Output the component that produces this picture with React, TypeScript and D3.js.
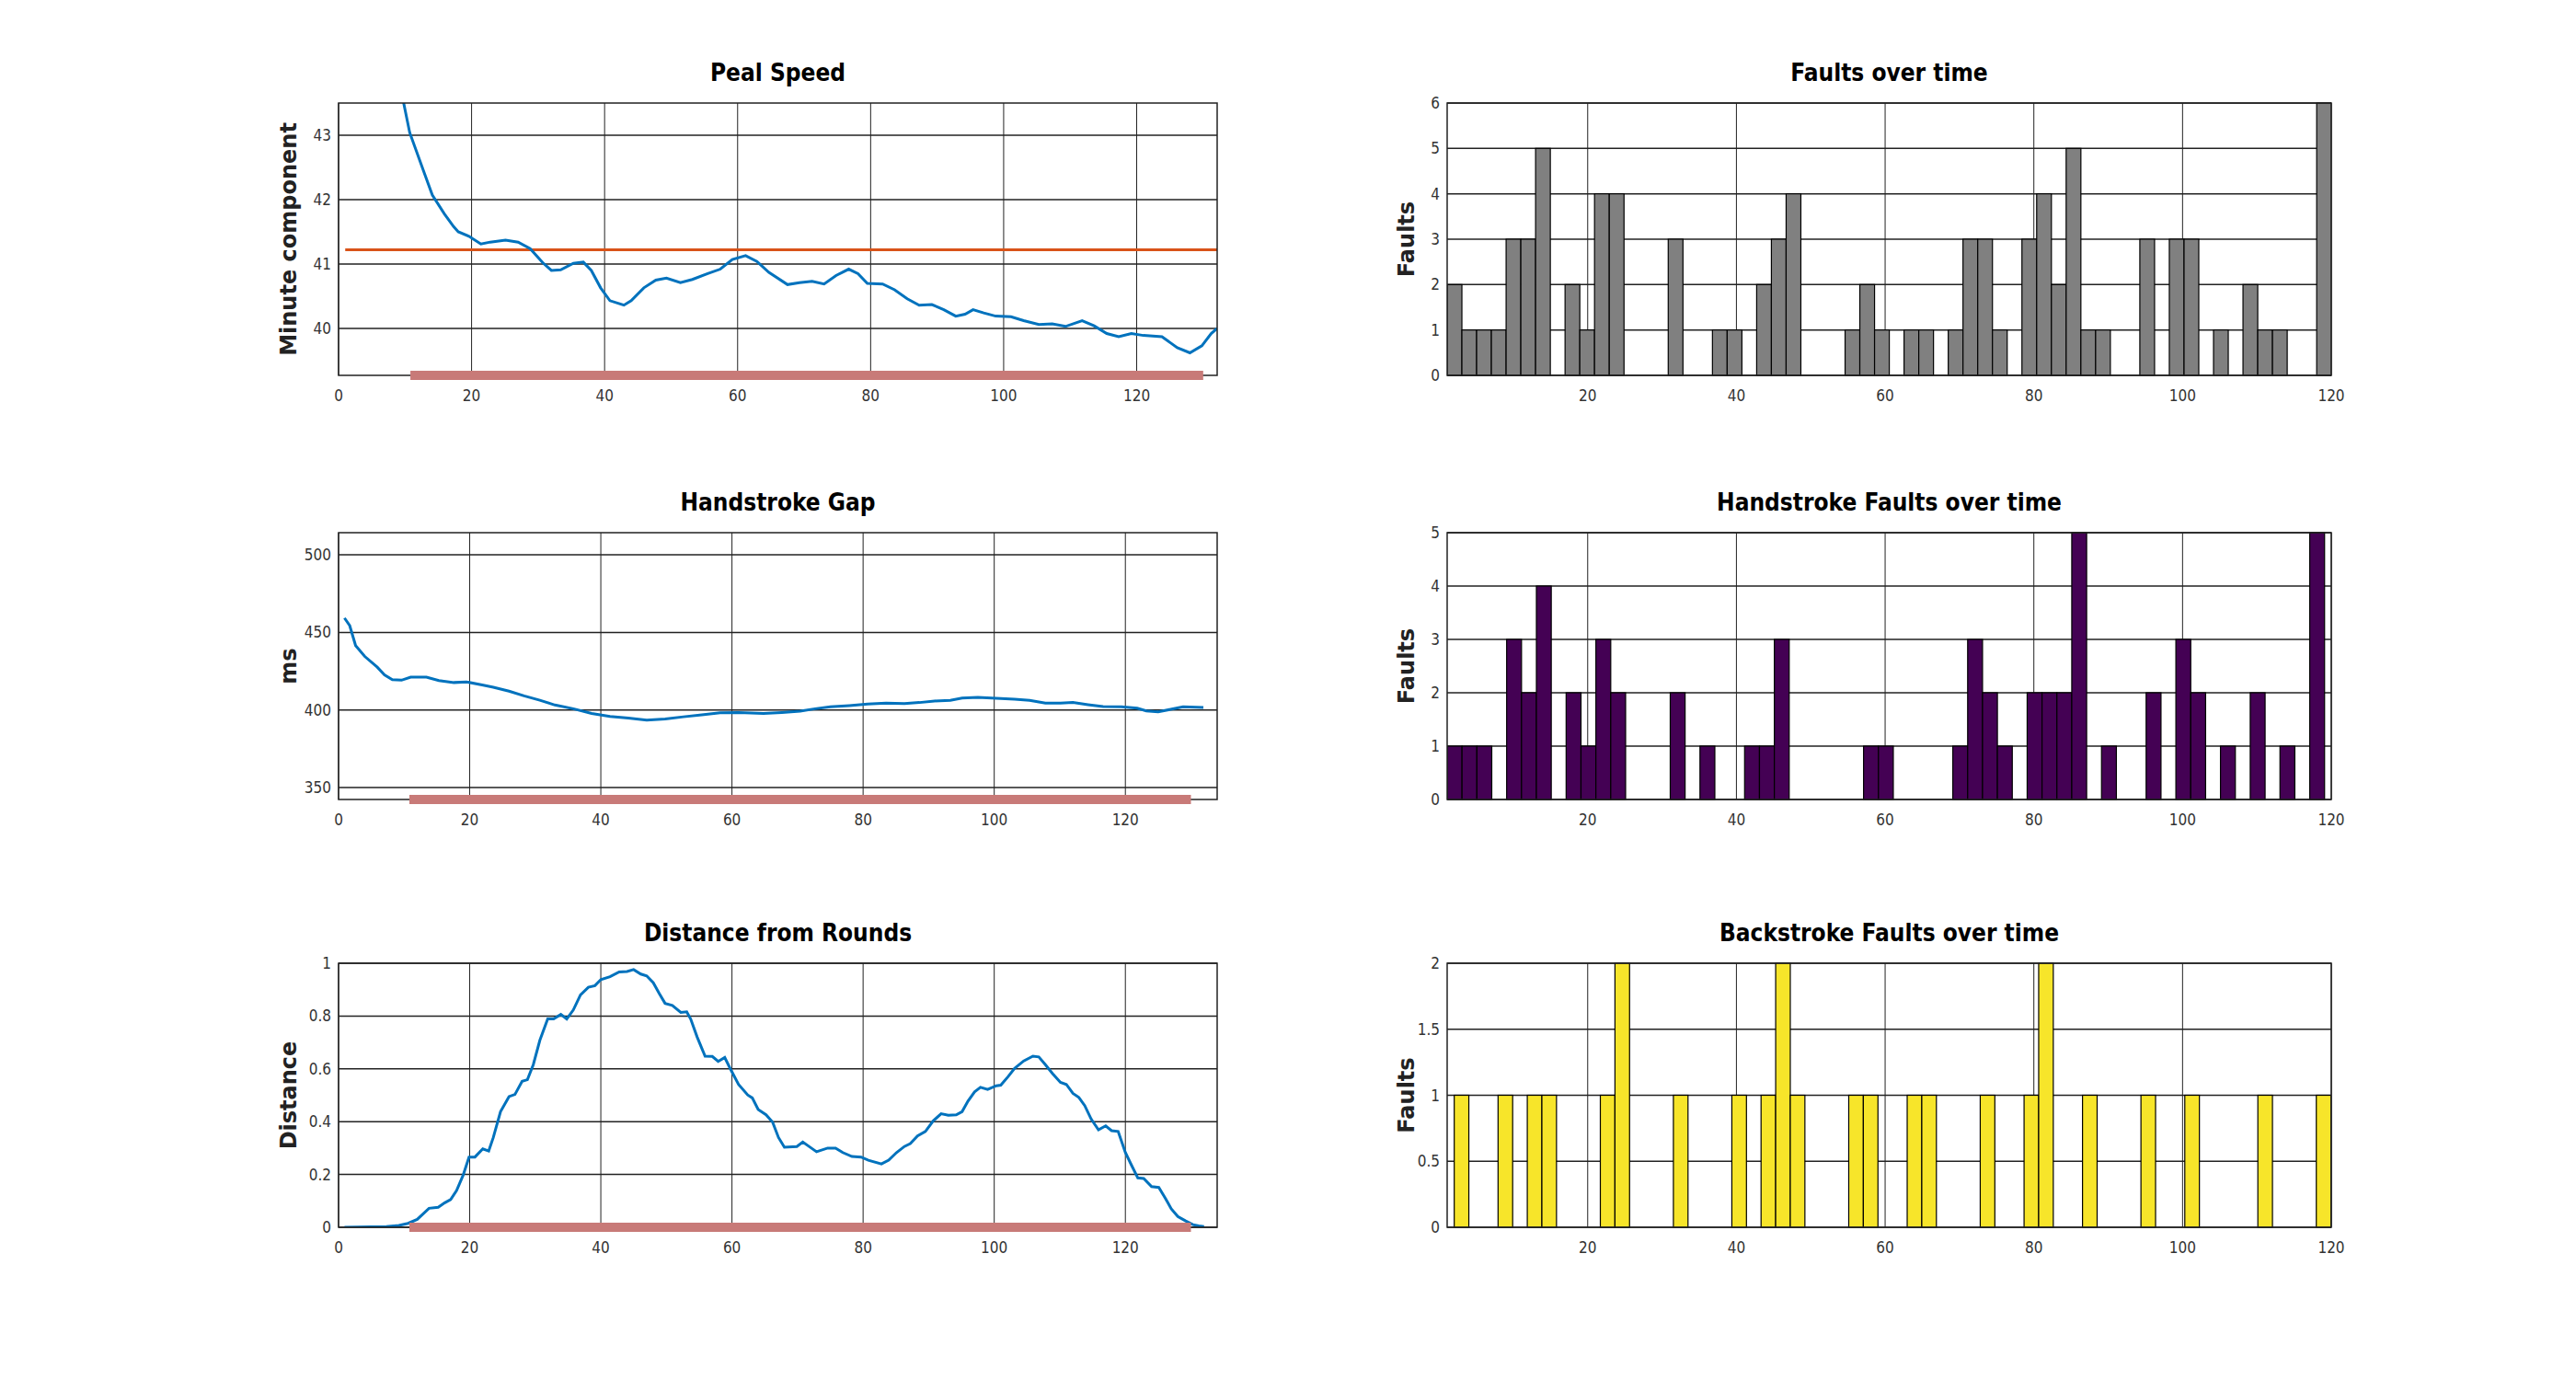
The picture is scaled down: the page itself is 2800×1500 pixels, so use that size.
import React from "react";
import * as d3 from "d3";

// ---- data ----
const pealX = [9, 10.7, 12.9, 14.1, 15.9, 17.3, 18, 19.6, 21.4, 22.8, 25.1, 27, 28.8, 30.7, 32, 33.4, 35.3, 36.8, 38, 39.4, 40.8, 42.9, 44, 45.9, 47.7, 49.3, 51.4, 53.2, 55.5, 57.4, 59.2, 61.2, 62.9, 64.7, 67.5, 69.3, 71.2, 73, 74.8, 76.7, 78.1, 79.5, 81.8, 83.6, 85.5, 87.3, 89.2, 91, 92.8, 94.2, 95.4, 97, 98.8, 101.1, 103, 105.3, 107.3, 109.3, 111.8, 113.6, 115.5, 117.3, 119.2, 121, 123.8, 126.1, 128, 129.8, 131.2, 132.1];
const pealSpeed = [43.9, 43.04, 42.41, 42.07, 41.78, 41.58, 41.5, 41.43, 41.31, 41.34, 41.37, 41.34, 41.24, 41.02, 40.9, 40.91, 41.01, 41.03, 40.9, 40.63, 40.43, 40.36, 40.43, 40.63, 40.75, 40.78, 40.71, 40.76, 40.85, 40.92, 41.07, 41.13, 41.04, 40.87, 40.68, 40.71, 40.73, 40.69, 40.82, 40.92, 40.85, 40.7, 40.69, 40.6, 40.46, 40.36, 40.37, 40.29, 40.19, 40.22, 40.29, 40.24, 40.19, 40.18, 40.12, 40.06, 40.07, 40.03, 40.12, 40.04, 39.92, 39.87, 39.92, 39.89, 39.87, 39.7, 39.62, 39.73, 39.92, 40.0];
const pealTarget = 41.22;

const gapX = [0.9, 1.7, 2.6, 4, 5.9, 7, 8.2, 9.6, 11, 13.4, 15.3, 17.6, 19.5, 21.9, 23.6, 26, 28.3, 30.7, 33, 35.8, 38.6, 41.4, 44.2, 47, 49.8, 52.6, 55.4, 58.2, 61, 64.8, 67.6, 70.4, 72.7, 75, 77.9, 80.7, 83.5, 86.3, 88.6, 90.9, 93.3, 95.1, 97.5, 100.3, 103.1, 105.4, 107.8, 110.1, 112, 114.3, 116.6, 119.4, 121.8, 123.2, 125, 126.9, 128.8, 131.9];
const gapMs = [459.3, 454.4, 441.5, 434.5, 427.6, 422.6, 419.6, 419.2, 421.2, 421.2, 419, 417.7, 418.1, 416.1, 414.7, 412.1, 409.1, 406.3, 403.2, 400.8, 397.8, 395.8, 394.8, 393.5, 394.2, 395.6, 396.8, 398.2, 398.4, 397.8, 398.4, 399.2, 400.8, 402, 402.8, 403.8, 404.4, 404.2, 404.8, 405.8, 406.2, 407.7, 408.1, 407.5, 406.9, 406.2, 404.4, 404.4, 404.8, 403.4, 402.2, 402, 401.2, 399.4, 398.8, 400.4, 402, 401.6];

const distX = [0.9, 5, 7.3, 9.2, 10.6, 12, 13.8, 15.2, 16.2, 17.1, 18, 19, 19.9, 20.8, 22, 22.9, 23.6, 24.7, 26, 26.9, 28, 28.8, 29.7, 30.7, 31.9, 32.8, 33.9, 34.8, 35.8, 36.9, 38.1, 39.1, 40, 41.4, 42.8, 44, 45, 46.1, 47, 48, 48.9, 49.8, 50.9, 52.2, 53.1, 53.7, 54.7, 55.9, 57, 57.9, 58.9, 59.9, 61, 62.4, 63.1, 64, 65.2, 66.2, 67.1, 68, 69.9, 70.8, 72.1, 72.9, 74.6, 75.8, 76.9, 78.3, 79.7, 80.8, 82.8, 83.9, 85.1, 86.3, 87.2, 88.3, 89.5, 90.7, 91.9, 93, 94.2, 95.1, 96, 97, 97.9, 99, 100.3, 101, 102.1, 103.1, 104.5, 105.9, 106.8, 107.8, 108.9, 110.1, 111, 112, 112.9, 113.8, 114.8, 115.9, 117, 117.9, 118.9, 120, 120.9, 121.9, 122.8, 124, 125.1, 126.1, 127, 128, 129.2, 130.3, 131.2, 132];
const distance = [0, 0.002, 0.003, 0.007, 0.015, 0.03, 0.072, 0.076, 0.093, 0.105, 0.139, 0.197, 0.266, 0.266, 0.297, 0.289, 0.34, 0.438, 0.495, 0.503, 0.553, 0.559, 0.616, 0.708, 0.789, 0.789, 0.806, 0.789, 0.823, 0.88, 0.909, 0.915, 0.938, 0.949, 0.967, 0.969, 0.976, 0.959, 0.952, 0.926, 0.886, 0.848, 0.84, 0.814, 0.816, 0.789, 0.72, 0.648, 0.647, 0.628, 0.643, 0.593, 0.541, 0.501, 0.49, 0.446, 0.426, 0.398, 0.34, 0.303, 0.306, 0.323, 0.3, 0.286, 0.3, 0.3, 0.283, 0.268, 0.266, 0.254, 0.24, 0.254, 0.283, 0.306, 0.317, 0.346, 0.363, 0.403, 0.43, 0.424, 0.426, 0.438, 0.478, 0.513, 0.53, 0.522, 0.536, 0.538, 0.57, 0.602, 0.63, 0.648, 0.645, 0.616, 0.582, 0.549, 0.541, 0.507, 0.492, 0.461, 0.409, 0.369, 0.384, 0.366, 0.363, 0.283, 0.237, 0.187, 0.185, 0.154, 0.151, 0.11, 0.07, 0.041, 0.024, 0.01, 0.005, 0.003];

const analysedRange = [10.8, 130];

const faults = [2, 1, 1, 1, 3, 3, 5, 0, 2, 1, 4, 4, 0, 0, 0, 3, 0, 0, 1, 1, 0, 2, 3, 4, 0, 0, 0, 1, 2, 1, 0, 1, 1, 0, 1, 3, 3, 1, 0, 3, 4, 2, 5, 1, 1, 0, 0, 3, 0, 3, 3, 0, 1, 0, 2, 1, 1, 0, 0, 6];
const handFaults = [1, 1, 1, 0, 3, 2, 4, 0, 2, 1, 3, 2, 0, 0, 0, 2, 0, 1, 0, 0, 1, 1, 3, 0, 0, 0, 0, 0, 1, 1, 0, 0, 0, 0, 1, 3, 2, 1, 0, 2, 2, 2, 5, 0, 1, 0, 0, 2, 0, 3, 2, 0, 1, 0, 2, 0, 1, 0, 5];
const backFaults = [1, 0, 0, 1, 0, 1, 1, 0, 0, 0, 1, 2, 0, 0, 0, 1, 0, 0, 0, 1, 0, 1, 2, 1, 0, 0, 0, 1, 1, 0, 0, 1, 1, 0, 0, 0, 1, 0, 0, 1, 2, 0, 0, 1, 0, 0, 0, 1, 0, 0, 1, 0, 0, 0, 0, 1, 0, 0, 0, 1];

const xTicksLine = [0, 20, 40, 60, 80, 100, 120];
const xTicksBar = [20, 40, 60, 80, 100, 120];

const BLUE = "#0072bd";
const ORANGE = "#d95319";
const PINK = "#c87a78";
const tickFont = "'Liberation Sans Narrow', 'DejaVu Sans Condensed', Arial, sans-serif";
const titleFont = "'Liberation Sans Narrow', 'DejaVu Sans Condensed', Arial, sans-serif";
const labelFont = "'DejaVu Sans', Verdana, sans-serif";

type Box = { x0: number; x1: number; y0: number; y1: number };

function Frame({ box, xs, ys, xTicks, yTicks, yFmt, title, ylabel, ylabelX }: any) {
  return (
    <g>
      <rect x={box.x0} y={box.y0} width={box.x1 - box.x0} height={box.y1 - box.y0} fill="white" />
      {xTicks.map((t: number) => (
        <g key={"x" + t}>
          <line x1={xs(t)} x2={xs(t)} y1={box.y0} y2={box.y1} stroke="#222" strokeWidth={1} />
          <text x={xs(t)} y={box.y1 + 28} textAnchor="middle" fontSize={17} fontFamily={tickFont} fill="#333">{t}</text>
        </g>
      ))}
      {yTicks.map((t: number) => (
        <g key={"y" + t}>
          <line x1={box.x0} x2={box.x1} y1={ys(t)} y2={ys(t)} stroke="#222" strokeWidth={1.5} />
          <text x={box.x0 - 8} y={ys(t) + 6} textAnchor="end" fontSize={17} fontFamily={tickFont} fill="#333">{yFmt ? yFmt(t) : t}</text>
        </g>
      ))}
      <text x={(box.x0 + box.x1) / 2} y={box.y0 - 24} textAnchor="middle" fontSize={26} fontWeight="bold" fontFamily={titleFont}>{title}</text>
      <text transform={`translate(${ylabelX},${(box.y0 + box.y1) / 2}) rotate(-90)`} textAnchor="middle" fontSize={24} fontWeight="bold" fontFamily={labelFont} fill="#222">{ylabel}</text>
    </g>
  );
}

function LineChart({ box, xs, ys, xv, yv, yTicks, title, ylabel, target }: any) {
  const line = d3.line<number>().x((_, i) => xs(xv[i])).y((d) => ys(d));
  const clipId = "clip" + title.replace(/\s/g, "");
  const [yb] = ys.range();
  return (
    <g>
      <Frame box={box} xs={xs} ys={ys} xTicks={xTicksLine} yTicks={yTicks} title={title} ylabel={ylabel} ylabelX={box.x0 - 46} />
      <clipPath id={clipId}>
        <rect x={box.x0} y={box.y0} width={box.x1 - box.x0} height={box.y1 - box.y0} />
      </clipPath>
      <g clipPath={`url(#${clipId})`}>
        {target !== undefined && (
          <line x1={xs(1)} x2={box.x1} y1={ys(target)} y2={ys(target)} stroke={ORANGE} strokeWidth={3} />
        )}
        <path d={line(yv) || ""} fill="none" stroke={BLUE} strokeWidth={3} />
      </g>
      <rect x={box.x0} y={box.y0} width={box.x1 - box.x0} height={box.y1 - box.y0} fill="none" stroke="#222" strokeWidth={1.5} />
      <rect x={xs(analysedRange[0])} y={yb - 5} width={xs(analysedRange[1]) - xs(analysedRange[0])} height={10} fill={PINK} />
    </g>
  );
}

function BarChart({ box, counts, start, width, yMax, yTicks, yFmt, color, title }: any) {
  const xs = d3.scaleLinear().domain([1.1, 120]).range([box.x0, box.x1]);
  const ys = d3.scaleLinear().domain([0, yMax]).range([box.y1, box.y0]);
  const clipId = "clip" + title.replace(/\s/g, "");
  return (
    <g>
      <Frame box={box} xs={xs} ys={ys} xTicks={xTicksBar} yTicks={yTicks} yFmt={yFmt} title={title} ylabel="Faults" ylabelX={box.x0 - 36} />
      <clipPath id={clipId}>
        <rect x={box.x0} y={box.y0 - 1} width={box.x1 - box.x0} height={box.y1 - box.y0 + 2} />
      </clipPath>
      <g clipPath={`url(#${clipId})`}>
        {counts.map((c: number, i: number) =>
          c > 0 ? (
            <rect key={i} x={xs(start + i * width)} y={ys(c)} width={xs(start + (i + 1) * width) - xs(start + i * width)} height={ys(0) - ys(c)} fill={color} stroke="#000" strokeWidth={1.2} />
          ) : null
        )}
      </g>
      <rect x={box.x0} y={box.y0} width={box.x1 - box.x0} height={box.y1 - box.y0} fill="none" stroke="#222" strokeWidth={1.5} />
    </g>
  );
}

export default function App() {
  const L = { x0: 360, x1: 1315 };
  const R = { x0: 1565, x1: 2526 };
  const rows = [
    { y0: 104, y1: 400 },
    { y0: 571, y1: 861 },
    { y0: 1039, y1: 1326 },
  ];
  const b1: Box = { ...L, ...rows[0] };
  const b2: Box = { ...L, ...rows[1] };
  const b3: Box = { ...L, ...rows[2] };

  const xs1 = d3.scaleLinear().domain([0, 132.1]).range([b1.x0, b1.x1]);
  const ys1 = d3.scaleLinear().domain([39.27, 43.5]).range([b1.y1, b1.y0]);
  const xs2 = d3.scaleLinear().domain([0, 134]).range([b2.x0, b2.x1]);
  const ys2 = d3.scaleLinear().domain([342.3, 514.3]).range([b2.y1, b2.y0]);
  const xs3 = d3.scaleLinear().domain([0, 134]).range([b3.x0, b3.x1]);
  const ys3 = d3.scaleLinear().domain([0, 1]).range([b3.y1, b3.y0]);

  return (
    <svg width={2784} height={1480} style={{ display: "block", background: "white" }}>
      <rect width={2784} height={1480} fill="white" />
      <LineChart box={b1} xs={xs1} ys={ys1} xv={pealX} yv={pealSpeed} yTicks={[40, 41, 42, 43]} title="Peal Speed" ylabel="Minute component" target={pealTarget} />
      <LineChart box={b2} xs={xs2} ys={ys2} xv={gapX} yv={gapMs} yTicks={[350, 400, 450, 500]} title="Handstroke Gap" ylabel="ms" />
      <LineChart box={b3} xs={xs3} ys={ys3} xv={distX} yv={distance} yTicks={[0, 0.2, 0.4, 0.6, 0.8, 1]} title="Distance from Rounds" ylabel="Distance" />
      <BarChart box={{ ...R, ...rows[0] }} counts={faults} start={1.1} width={1.982} yMax={6} yTicks={[0, 1, 2, 3, 4, 5, 6]} color="#808080" title="Faults over time" />
      <BarChart box={{ ...R, ...rows[1] }} counts={handFaults} start={1.1} width={2.0} yMax={5} yTicks={[0, 1, 2, 3, 4, 5]} color="#440154" title="Handstroke Faults over time" />
      <BarChart box={{ ...R, ...rows[2] }} counts={backFaults} start={2.05} width={1.965} yMax={2} yTicks={[0, 0.5, 1, 1.5, 2]} color="#f7e52a" title="Backstroke Faults over time" />
    </svg>
  );
}
